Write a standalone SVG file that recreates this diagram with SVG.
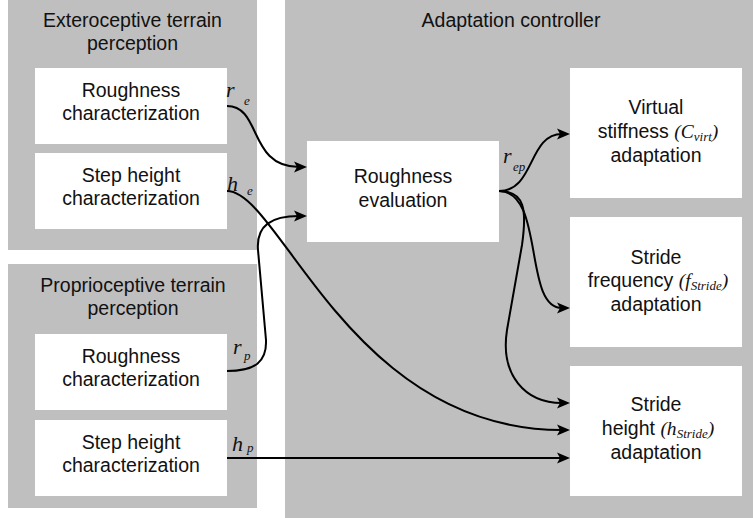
<svg xmlns="http://www.w3.org/2000/svg" width="753" height="518" viewBox="0 0 753 518">
<style>
.panel{fill:#bfbfbf;}
.box{fill:#ffffff;}
.t{font-family:"Liberation Sans",Arial,sans-serif;font-size:19.5px;fill:#111;text-anchor:middle;}
.m{font-family:"Liberation Serif","Times New Roman",serif;font-style:italic;}
.lbl{font-family:"Liberation Serif","Times New Roman",serif;font-style:italic;font-size:22px;fill:#111;}
.sub{font-family:"Liberation Serif","Times New Roman",serif;font-style:italic;font-size:13px;fill:#111;}
.c{fill:none;stroke:#000;stroke-width:2;}
</style>
<defs>
<marker id="ah" markerUnits="userSpaceOnUse" markerWidth="14" markerHeight="12" viewBox="0 0 14 12" refX="5" refY="6" orient="auto">
<path d="M0,0.5 L13,6 L0,11.5 L3,6 z" fill="#000"/>
</marker>
</defs>
<g id="panel-extero">
<rect class="panel" x="8" y="0" width="249" height="250"/>
<text class="t" x="132.5" y="27">Exteroceptive terrain</text>
<text class="t" x="132.5" y="50">perception</text>
</g>
<g id="panel-proprio">
<rect class="panel" x="8" y="264" width="249" height="244"/>
<text class="t" x="133" y="292">Proprioceptive terrain</text>
<text class="t" x="133" y="315">perception</text>
</g>
<g id="panel-controller">
<rect class="panel" x="285" y="0" width="468" height="518"/>
<text class="t" x="511" y="27">Adaptation controller</text>
</g>
<g id="ext-roughness">
<rect class="box" x="35" y="68" width="192" height="76"/>
<text class="t" x="131" y="97">Roughness</text>
<text class="t" x="131" y="120">characterization</text>
</g>
<g id="ext-step">
<rect class="box" x="35" y="153" width="192" height="76"/>
<text class="t" x="131" y="182">Step height</text>
<text class="t" x="131" y="205">characterization</text>
</g>
<g id="prop-roughness">
<rect class="box" x="35" y="334" width="192" height="76"/>
<text class="t" x="131" y="363">Roughness</text>
<text class="t" x="131" y="386">characterization</text>
</g>
<g id="prop-step">
<rect class="box" x="35" y="420" width="192" height="76"/>
<text class="t" x="131" y="449">Step height</text>
<text class="t" x="131" y="472">characterization</text>
</g>
<g id="rough-eval">
<rect class="box" x="307" y="141" width="192" height="101"/>
<text class="t" x="403" y="183">Roughness</text>
<text class="t" x="403" y="207">evaluation</text>
</g>
<g id="virtual-stiffness">
<rect class="box" x="570" y="68" width="172" height="130"/>
<text class="t" x="656" y="114">Virtual</text>
<text class="t" x="658" y="138">stiffness <tspan class="m">(C</tspan><tspan class="m" font-size="13" dy="3">virt</tspan><tspan class="m" dy="-3">)</tspan></text>
<text class="t" x="656" y="162">adaptation</text>
</g>
<g id="stride-frequency">
<rect class="box" x="570" y="217" width="172" height="130"/>
<text class="t" x="656" y="264">Stride</text>
<text class="t" x="658" y="287">frequency <tspan class="m">(f</tspan><tspan class="m" font-size="13" dy="3">Stride</tspan><tspan class="m" dy="-3">)</tspan></text>
<text class="t" x="656" y="311">adaptation</text>
</g>
<g id="stride-height">
<rect class="box" x="570" y="366" width="172" height="130"/>
<text class="t" x="656" y="411">Stride</text>
<text class="t" x="658" y="435">height <tspan class="m">(h</tspan><tspan class="m" font-size="13" dy="3">Stride</tspan><tspan class="m" dy="-3">)</tspan></text>
<text class="t" x="656" y="459">adaptation</text>
</g>
<g id="connectors">
<path class="c" marker-end="url(#ah)" d="M227,106 C262,106 248,167 299,167"/>
<path class="c" marker-end="url(#ah)" d="M227,371 C255,371 267,362 266,340 L258,250 C256,225 272,216 299,216"/>
<path class="c" marker-end="url(#ah)" d="M227,191 C280,191 350,430 562,430"/>
<path class="c" marker-end="url(#ah)" d="M227,458 L562,458"/>
<path class="c" marker-end="url(#ah)" d="M499,191 C535,191 528,134 562,134"/>
<path class="c" marker-end="url(#ah)" d="M499,191 C545,191 523,308 562,308"/>
<path class="c" marker-end="url(#ah)" d="M499,191 C525,191 527,210 522,245 L507,330 C500,375 525,403 562,403"/>
<text class="lbl" x="226" y="97">r</text><text class="sub" x="244" y="105">e</text>
<text class="lbl" x="227" y="191">h</text><text class="sub" x="247" y="195">e</text>
<text class="lbl" x="233" y="354">r</text><text class="sub" x="244" y="360">p</text>
<text class="lbl" x="232" y="451">h</text><text class="sub" x="247" y="452">p</text>
<text class="lbl" x="503" y="163">r</text><text class="sub" x="513" y="171">ep</text>
</g>
</svg>
